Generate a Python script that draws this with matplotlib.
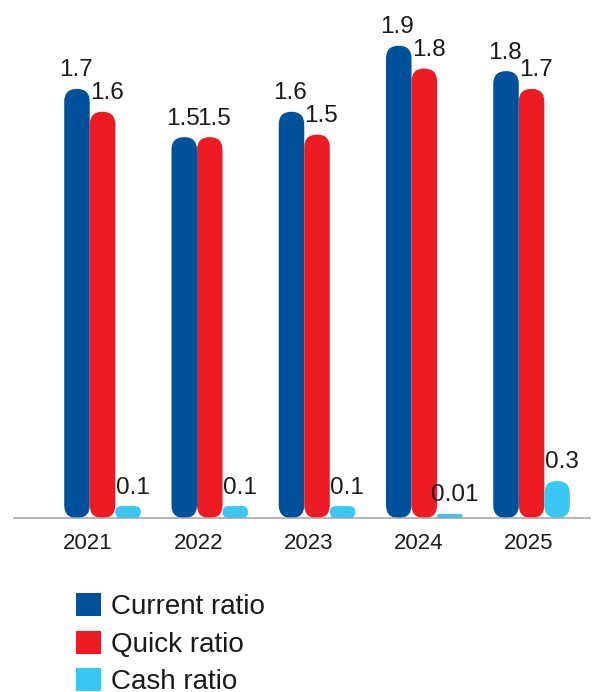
import numpy as np
import matplotlib
matplotlib.use("Agg")
import matplotlib.pyplot as plt
from matplotlib.patches import FancyBboxPatch, Patch, BoxStyle

plt.rcParams['font.family'] = ['Liberation Sans', 'DejaVu Sans']

# данные
years = ['2021', '2022', '2023', '2024', '2025']
current_ratio = [1.69, 1.50, 1.60, 1.86, 1.76]
quick_ratio = [1.60, 1.50, 1.51, 1.77, 1.69]
cash_ratio = [0.047, 0.047, 0.047, 0.016, 0.146]
current_labels = ['1.7', '1.5', '1.6', '1.9', '1.8']
quick_labels = ['1.6', '1.5', '1.5', '1.8', '1.7']
cash_labels = ['0.1', '0.1', '0.1', '0.01', '0.3']
series_names = ['Current ratio', 'Quick ratio', 'Cash ratio']
colors = ['#00519c', '#ed1c24', '#3ac7f3']
text_color = '#1a1a1a'

W, H = 592, 692
fig = plt.figure(figsize=(W / 100, H / 100), dpi=100)
ax_px = [14, 174, 576, 518]  # left, bottom, width, height in px
ax = fig.add_axes([ax_px[0] / W, ax_px[1] / H, ax_px[2] / W, ax_px[3] / H])

xlim = (-0.825, 4.545)
ylim = (0, 2.04)
ax.set_xlim(*xlim)
ax.set_ylim(*ylim)

# аспект для круглых скруглений
x_per_px = (xlim[1] - xlim[0]) / ax_px[2]
y_per_px = (ylim[1] - ylim[0]) / ax_px[3]
m_aspect = y_per_px / x_per_px

x = np.arange(len(years))
w = 0.238
offsets = [-w, 0, w]
label_shift = [-1, 3, 3.5]  # небольшой сдвиг подписей, pt
series = [current_ratio, quick_ratio, cash_ratio]
labels = [current_labels, quick_labels, cash_labels]

for vals, labs, off, col, sh in zip(series, labels, offsets, colors, label_shift):
    for xi, v, lab in zip(x, vals, labs):
        left = xi + off - w / 2
        dr = min(w / 2, v / m_aspect / 2)
        p = FancyBboxPatch((left, 0), w, v,
                           boxstyle=BoxStyle.Round(pad=0, rounding_size=dr),
                           mutation_aspect=m_aspect,
                           facecolor=col, edgecolor='none', zorder=2)
        ax.add_patch(p)
        ax.annotate(lab, xy=(xi + off, v), xytext=(sh, 9),
                    textcoords='offset points', ha='center', va='baseline',
                    fontsize=17.5, color=text_color)

# подписи годов идут с чуть большим шагом, чем группы столбцов
year_pos = x - 0.135 + 0.028 * x
ax.set_xticks(year_pos)
ax.set_xticklabels(years, fontsize=16, color=text_color)
ax.tick_params(axis='x', length=0, pad=11)
ax.set_yticks([])
for s in ['top', 'right', 'left']:
    ax.spines[s].set_visible(False)
ax.spines['bottom'].set_color('#a0a0a0')
ax.spines['bottom'].set_linewidth(1.1)

handles = [Patch(facecolor=c, edgecolor='none') for c in colors]
fig.legend(handles, series_names, loc='upper left',
           bbox_to_anchor=(76 / W, 1 - 593 / H), frameon=False,
           fontsize=20, handlelength=0.9, handleheight=0.9,
           handletextpad=0.36, labelspacing=0.38, borderpad=0,
           borderaxespad=0, labelcolor=text_color)

fig.savefig('out.png', dpi=100)
